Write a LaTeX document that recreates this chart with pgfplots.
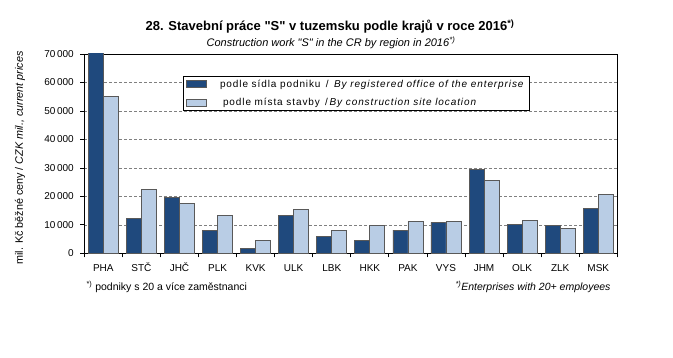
\documentclass[border=0pt]{standalone}
\usepackage{pgfplots}
\pgfplotsset{compat=1.18}
\usepackage{fontspec}
\setmainfont{Liberation Sans}
\definecolor{darkb}{RGB}{31,73,125}
\definecolor{lightb}{RGB}{185,205,229}
\definecolor{edgec}{RGB}{89,89,89}
\definecolor{gridc}{RGB}{128,128,128}
\pgfplotsset{mylegend/.style={legend image code/.code={\draw[##1] (0pt,-3.5pt) rectangle (20pt,3.5pt);}}}
\newcommand{\q}{\textquotedbl}
\begin{document}
\begin{tikzpicture}[x=1pt,y=1pt]
\path[use as bounding box] (0,0) rectangle (673,358);
\begin{axis}[
  at={(84.3pt,104.7pt)}, anchor=south west,
  scale only axis, width=533pt, height=199.3pt,
  ymin=0, ymax=70000, ytick={0,10000,...,70000},
  xmin=-0.5, xmax=13.5,
  xtick={-0.5,0.5,1.5,2.5,3.5,4.5,5.5,6.5,7.5,8.5,9.5,10.5,11.5,12.5,13.5},
  x tick label as interval,
  xticklabels={PHA,STČ,JHČ,PLK,KVK,ULK,LBK,HKK,PAK,VYS,JHM,OLK,ZLK,MSK},
  ybar=0pt, bar width=15pt,
  ymajorgrids, grid style={gridc, line width=0.6pt, dash pattern=on 3pt off 2pt},
  axis line style={black, line width=0.75pt},
  tick style={black, line width=0.75pt},
  major tick length=4pt, tick align=outside, tick pos=left,
  /pgf/number format/assume math mode=true,
  /pgf/number format/1000 sep={\,},
  scaled y ticks=false,
  ticklabel style={font=\fontsize{10}{12}\selectfont},
  yticklabel style={xshift=-3pt},
  xticklabel style={yshift=-2pt, text height=9pt, text depth=2pt},
  legend style={at={(rel axis cs:0.185,0.89)}, anchor=north west, draw=black,
    line width=0.6pt, font=\fontsize{10}{12}\selectfont\addfontfeature{LetterSpace=9}, row sep=5.5pt,
    inner xsep=3pt, inner ysep=1.5pt},
  legend cell align=left,
]
\addplot[fill=darkb, draw=edgec, line width=0.8pt, mylegend]
  coordinates {(0,72000) (1,12300) (2,19700) (3,8100) (4,1800) (5,13400) (6,6000)
  (7,4600) (8,8100) (9,10900) (10,29500) (11,10200) (12,9850) (13,15800)};
\addplot[fill=lightb, draw=edgec, line width=0.8pt, mylegend]
  coordinates {(0,55200) (1,22500) (2,17600) (3,13400) (4,4600) (5,15500) (6,8100)
  (7,9850) (8,11250) (9,11250) (10,25700) (11,11600) (12,8800) (13,20750)};
\legend{\hspace{11pt}podle sídla podniku \,/\, \textit{By registered office of the enterprise},
        \hspace{14pt}podle místa stavby \,/\,\textit{By construction site location}}
\end{axis}
\node[font=\bfseries\fontsize{13}{15}\selectfont] at (330,331.3)
  {28. Stavební práce \q S\q{} v tuzemsku podle krajů v roce 2016\textsuperscript{*)}};
\node[font=\itshape\fontsize{11}{13}\selectfont] at (331,315)
  {Construction work \q S\q{} in the CR by region in 2016\textsuperscript{*)}};
\node[rotate=90, font=\fontsize{10.8}{12}\selectfont] at (20,200)
  {mil. Kč běžné ceny / \textit{CZK mil., current prices}};
\node[anchor=west, font=\fontsize{10.5}{12}\selectfont] at (83,71)
  {\textsuperscript{*)} podniky s 20 a více zaměstnanci};
\node[anchor=east, font=\itshape\fontsize{10.5}{12}\selectfont] at (614,71)
  {\textsuperscript{*)}Enterprises with 20+ employees};
\end{tikzpicture}
\end{document}
